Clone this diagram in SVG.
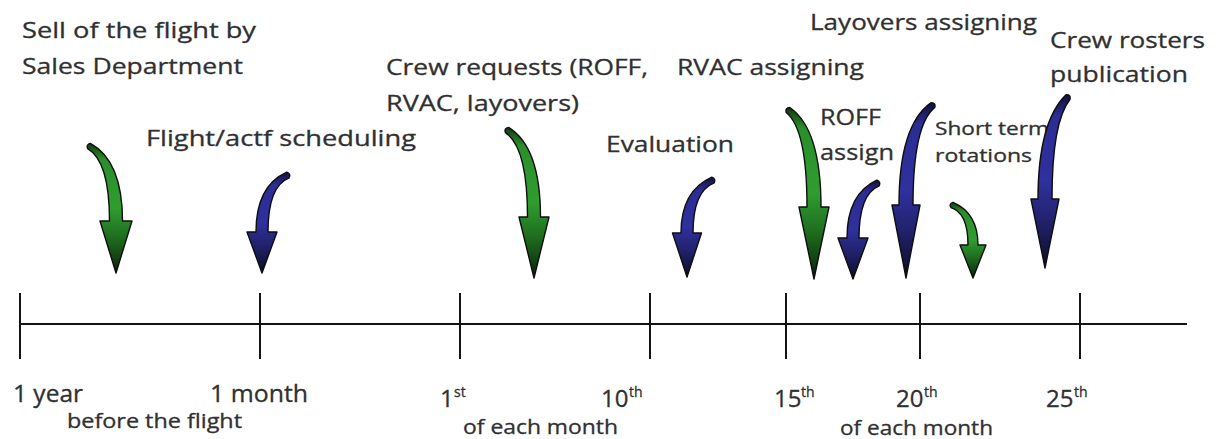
<svg xmlns="http://www.w3.org/2000/svg" width="1222" height="439" viewBox="0 0 1222 439">
  <style>
    text { font-family: "Open Sans", "Noto Sans", "Liberation Sans", sans-serif; fill: #303030; stroke: #303030; stroke-width: 0.3; }
    .lbl { font-size: 22px; }
    .small { font-size: 18.5px; }
    .tick { font-size: 23px; }
    .day { font-size: 24px; }
    .sup { font-size: 14px; }
    .note { font-size: 19.5px; }
    .axis { stroke: #141414; stroke-width: 2; fill: none; }
    .arrow { stroke: #0e0e0e; stroke-width: 1.4; stroke-linejoin: round; }
    .green { fill: url(#gGreen); }
    .blue { fill: url(#gBlue); }
  </style>
  <defs>
    <linearGradient id="gGreen" x1="0" y1="0" x2="0" y2="1">
      <stop offset="0" stop-color="#123612"/>
      <stop offset="0.12" stop-color="#2a8f2a"/>
      <stop offset="0.5" stop-color="#2f9d2f"/>
      <stop offset="0.72" stop-color="#1f6e1f"/>
      <stop offset="0.9" stop-color="#123e12"/>
      <stop offset="1" stop-color="#0a1a0a"/>
    </linearGradient>
    <linearGradient id="gBlue" x1="0" y1="0" x2="0" y2="1">
      <stop offset="0" stop-color="#10103a"/>
      <stop offset="0.12" stop-color="#2c2c94"/>
      <stop offset="0.5" stop-color="#30309e"/>
      <stop offset="0.72" stop-color="#22226e"/>
      <stop offset="0.9" stop-color="#141440"/>
      <stop offset="1" stop-color="#0a0a1e"/>
    </linearGradient>
  </defs>

  <rect width="1222" height="439" fill="#ffffff"/>

  <!-- timeline -->
  <g id="timeline">
    <path class="axis" d="M20,324 H1187"/>
    <path class="axis" d="M20,293 V359 M260,293 V359 M460,293 V359 M650,293 V359 M786,293 V359 M920,293 V359 M1080,293 V359"/>
  </g>

  <!-- time marks -->
  <g id="mark-year">
    <text class="tick" x="13" y="402" textLength="70" lengthAdjust="spacingAndGlyphs">1 year</text>
  </g>
  <g id="mark-month">
    <text class="tick" x="210" y="402" textLength="98" lengthAdjust="spacingAndGlyphs">1 month</text>
    <text class="note" x="67" y="428" textLength="175" lengthAdjust="spacingAndGlyphs">before the flight</text>
  </g>
  <g id="mark-1st">
    <text class="day" x="440" y="407">1</text>
    <text class="sup" x="454" y="397">st</text>
    <text class="note" x="463" y="434" textLength="155" lengthAdjust="spacingAndGlyphs">of each month</text>
  </g>
  <g id="mark-10th">
    <text class="day" x="601" y="407">10</text>
    <text class="sup" x="629" y="397">th</text>
  </g>
  <g id="mark-15th">
    <text class="day" x="774" y="407">15</text>
    <text class="sup" x="801" y="397">th</text>
  </g>
  <g id="mark-20th">
    <text class="day" x="896" y="407">20</text>
    <text class="sup" x="924" y="397">th</text>
    <text class="note" x="840" y="435" textLength="153" lengthAdjust="spacingAndGlyphs">of each month</text>
  </g>
  <g id="mark-25th">
    <text class="day" x="1046" y="407">25</text>
    <text class="sup" x="1074" y="397">th</text>
  </g>

  <!-- events -->
  <g id="sell">
    <text class="lbl" x="22" y="38" textLength="234" lengthAdjust="spacingAndGlyphs">Sell of the flight by</text>
    <text class="lbl" x="22" y="74" textLength="221" lengthAdjust="spacingAndGlyphs">Sales Department</text>
  </g>
  <g id="scheduling">
    <text class="lbl" x="146" y="146" textLength="270" lengthAdjust="spacingAndGlyphs">Flight/actf scheduling</text>
  </g>
  <g id="requests">
    <text class="lbl" x="386" y="75" textLength="262" lengthAdjust="spacingAndGlyphs">Crew requests (ROFF,</text>
    <text class="lbl" x="386" y="111" textLength="193" lengthAdjust="spacingAndGlyphs">RVAC, layovers)</text>
  </g>
  <g id="evaluation">
    <text class="lbl" x="606" y="152" textLength="128" lengthAdjust="spacingAndGlyphs">Evaluation</text>
  </g>
  <g id="rvac">
    <text class="lbl" x="677" y="75" textLength="187" lengthAdjust="spacingAndGlyphs">RVAC assigning</text>
  </g>
  <g id="roff">
    <text class="lbl" x="820" y="125" textLength="61" lengthAdjust="spacingAndGlyphs">ROFF</text>
    <text class="lbl" x="820" y="160" textLength="74" lengthAdjust="spacingAndGlyphs">assign</text>
  </g>
  <g id="layovers">
    <text class="lbl" x="810" y="30" textLength="227" lengthAdjust="spacingAndGlyphs">Layovers assigning</text>
  </g>
  <g id="short-term">
    <text class="small" x="935" y="135" textLength="114" lengthAdjust="spacingAndGlyphs">Short term</text>
    <text class="small" x="935" y="162" textLength="97" lengthAdjust="spacingAndGlyphs">rotations</text>
  </g>
  <g id="publication">
    <text class="lbl" x="1050" y="48" textLength="155" lengthAdjust="spacingAndGlyphs">Crew rosters</text>
    <text class="lbl" x="1050" y="82" textLength="138" lengthAdjust="spacingAndGlyphs">publication</text>
  </g>

  <!-- curved arrows pointing down to the timeline -->
  <g id="connectors">
    <path class="arrow green" d="M90.4,143.4 Q122.5,161 122.5,221 L132,221 L116,273 L100,221 L109.5,221 Q109.5,161 87.6,148.6 Q86,144.5 90.4,143.4 Z"/>
    <path class="arrow blue" d="M289.2,177.8 Q268,186 268,232 L277,232 L262,273 L247,232 L256,232 Q256,186 286.8,172.2 Q291,173.5 289.2,177.8 Z"/>
    <path class="arrow green" d="M508.6,127.4 Q540.5,147 540.5,217 L549,217 L534,278 L519,217 L527.5,217 Q527.5,147 505.4,132.6 Q503.8,128.2 508.6,127.4 Z"/>
    <path class="arrow blue" d="M714.2,182.8 Q693,191 693,233 L701.5,233 L687,277 L672.5,233 L681,233 Q681,191 711.8,177.2 Q716,178.4 714.2,182.8 Z"/>
    <path class="arrow green" d="M789.8,107.5 Q821,129 821,207 L829,207 L814,279 L799,207 L807,207 Q807,129 786.2,112.5 Q785,108 789.8,107.5 Z"/>
    <path class="arrow blue" d="M879.2,185.8 Q859,194 859,238 L868,238 L853,279 L838,238 L847,238 Q847,194 876.8,180.2 Q881,181.4 879.2,185.8 Z"/>
    <path class="arrow blue" d="M934.8,107.4 Q913,125 913,205 L920,205 L906,278 L892,205 L899,205 Q899,125 931.2,102.6 Q936,102.8 934.8,107.4 Z"/>
    <path class="arrow green" d="M953,202.3 Q978,213 978,245 L986,245 L973,278 L960,245 L968,245 Q968,213 951,207.7 Q948.6,203.8 953,202.3 Z"/>
    <path class="arrow blue" d="M1070,99.3 Q1052,122 1052,199 L1059,199 L1045,268 L1031,199 L1038,199 Q1038,122 1066,94.7 Q1071,94.5 1070,99.3 Z"/>
  </g>
</svg>
